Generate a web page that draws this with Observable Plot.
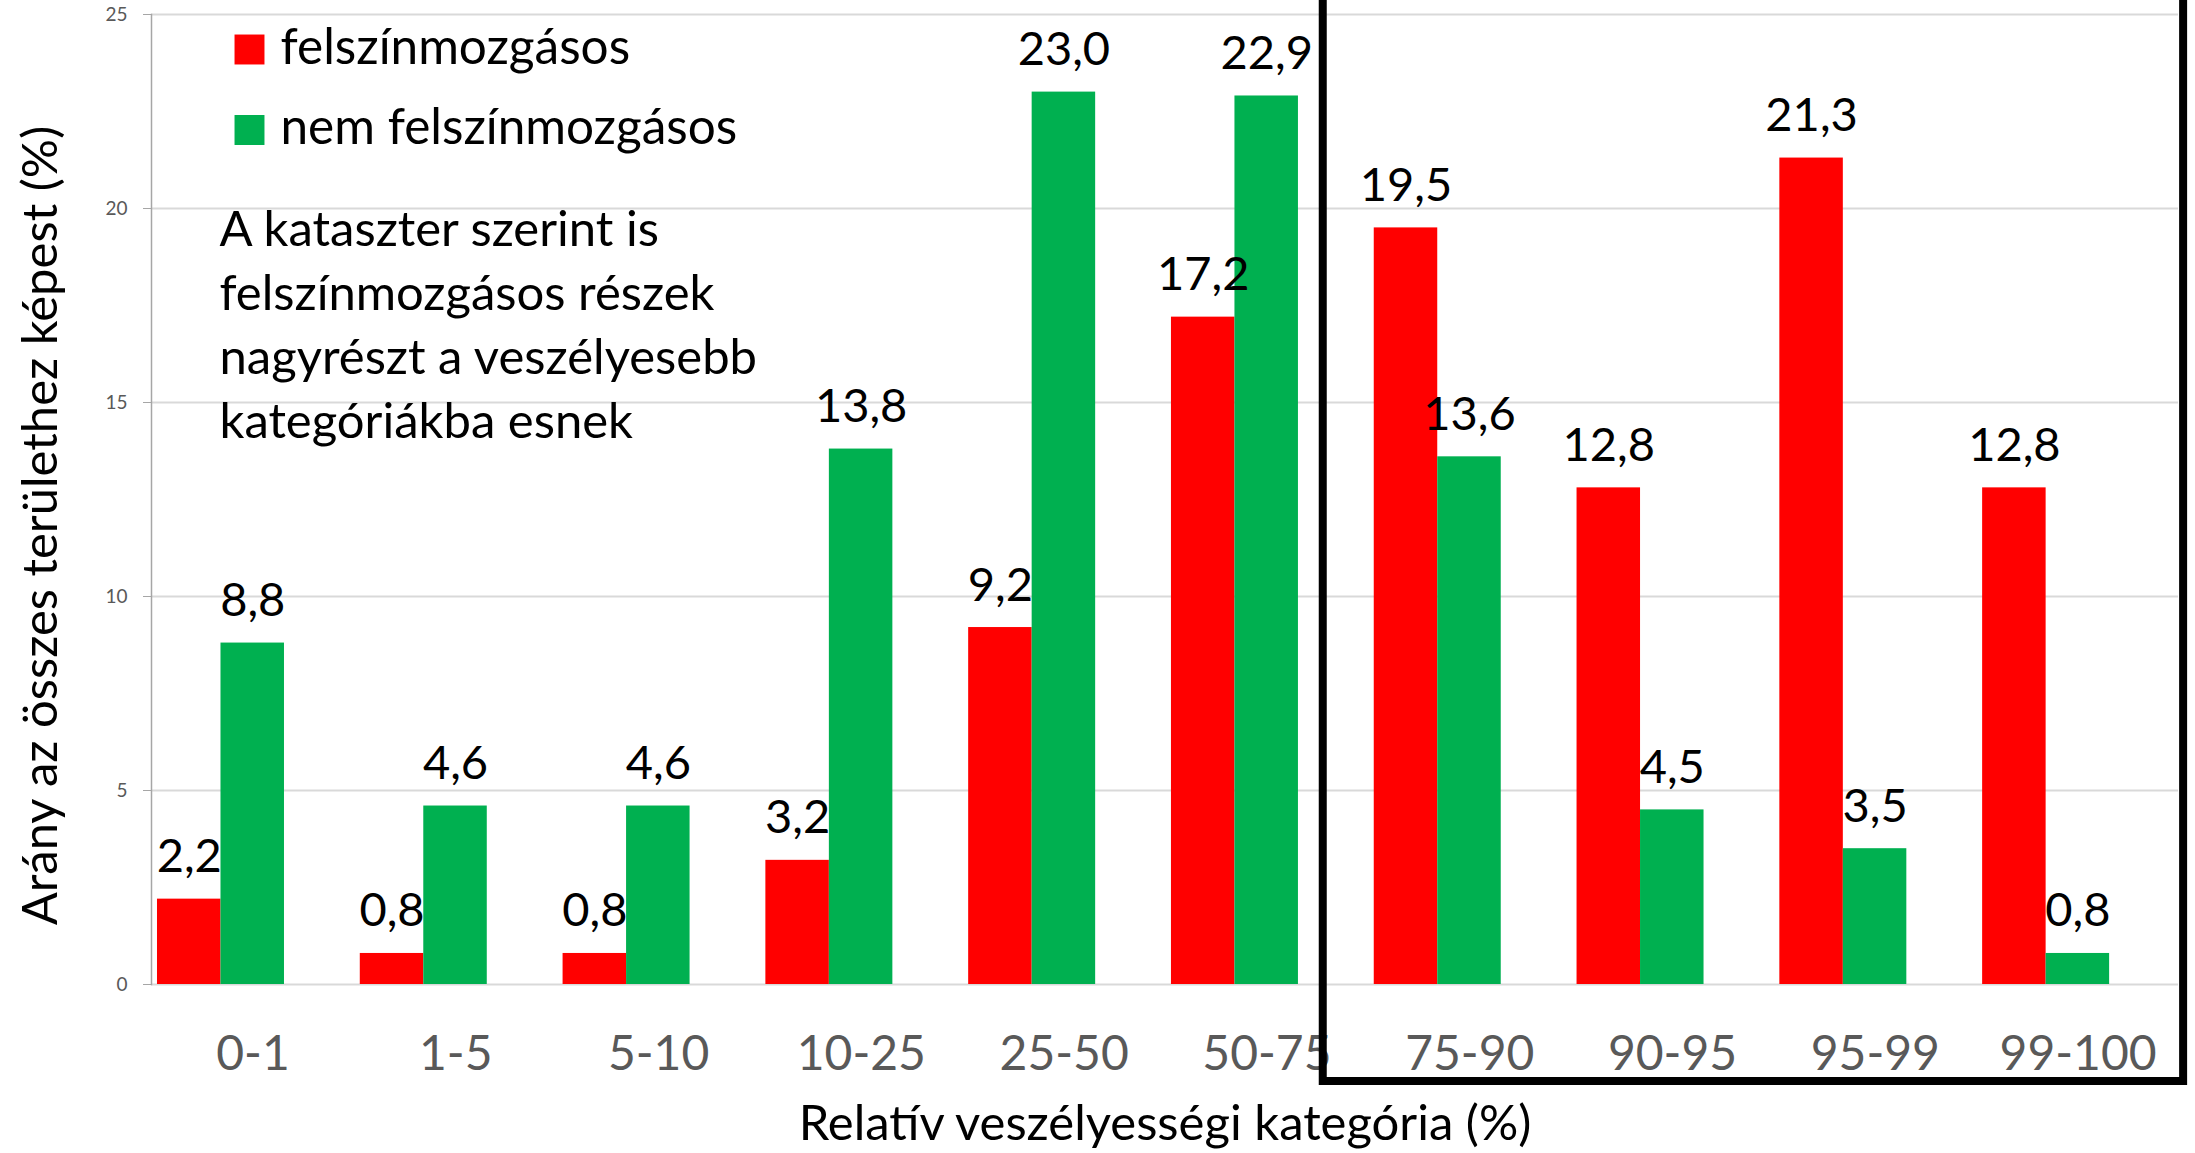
<!DOCTYPE html>
<html>
<head>
<meta charset="utf-8">
<script src="https://cdn.jsdelivr.net/npm/d3@7"></script>
<script src="https://cdn.jsdelivr.net/npm/@observablehq/plot@0.6"></script>
<style>
  html, body { margin: 0; padding: 0; background: #fff; }
  #chart svg { display: block; }
</style>
</head>
<body>
<div id="chart"></div>
<script>
const categories = ["0-1", "1-5", "5-10", "10-25", "25-50", "50-75", "75-90", "90-95", "95-99", "99-100"];
const felszin = [2.2, 0.8, 0.8, 3.2, 9.2, 17.2, 19.5, 12.8, 21.3, 12.8];
const nemFelszin = [8.8, 4.6, 4.6, 13.8, 23.0, 22.9, 13.6, 4.5, 3.5, 0.8];
const seriesNames = ["felszínmozgásos", "nem felszínmozgásos"];
const seriesColors = ["#FF0000", "#00B050"];
const yTicks = [0, 5, 10, 15, 20, 25];
const yLabel = "Arány az összes területhez képest (%)";
const xLabel = "Relatív veszélyességi kategória (%)";
const note = "A kataszter szerint is\nfelszínmozgásos részek\nnagyrészt a veszélyesebb\nkategóriákba esnek";

const W = 2195, H = 1153;
const mL = 151, mR = 17, mT = 14, mB = 169;
const xOpts = {paddingInner: 0.3738, paddingOuter: 0.1846, align: 0.08, round: false};
const xRange = [mL, W - mR];
const bw = d3.scaleBand().domain(categories).range(xRange)
  .paddingInner(xOpts.paddingInner).paddingOuter(xOpts.paddingOuter).align(xOpts.align).bandwidth();

const red = categories.map((c, i) => ({cat: c, value: felszin[i]}));
const green = categories.map((c, i) => ({cat: c, value: nemFelszin[i]}));
const fmt = v => v.toFixed(1).replace(".", ",");
const legend = seriesNames.map((s, i) => ({name: s, color: seriesColors[i], i}));

const chart = Plot.plot({
  width: W, height: H,
  marginLeft: mL, marginRight: mR, marginTop: mT, marginBottom: mB,
  style: {fontFamily: "Lato, sans-serif", background: "#fff"},
  x: {type: "band", domain: categories, range: xRange, ...xOpts},
  y: {domain: [0, 25]},
  marks: [
    Plot.gridY(yTicks, {stroke: "#d9d9d9", strokeOpacity: 1, strokeWidth: 2}),
    Plot.frame({anchor: "left", stroke: "#a6a6a6", strokeWidth: 1.5}),
    Plot.axisY({ticks: yTicks, tickSize: 8, tickPadding: 16, fontSize: 19, fill: "#595959", stroke: "#a6a6a6", label: null}),
    Plot.axisX({tickSize: 0, tickPadding: 51, fontSize: 48, fill: "#595959", dx: 32, label: null}),
    Plot.barY(red, {x: "cat", y: "value", fill: seriesColors[0], insetRight: bw / 2}),
    Plot.barY(green, {x: "cat", y: "value", fill: seriesColors[1], insetLeft: bw / 2}),
    Plot.text(red, {x: "cat", y: "value", text: d => fmt(d.value), dx: -bw / 4, dy: -27, lineAnchor: "bottom", fontSize: 47, fill: "#000"}),
    Plot.text(green, {x: "cat", y: "value", text: d => fmt(d.value), dx: bw / 4, dy: -27, lineAnchor: "bottom", fontSize: 47, fill: "#000"}),
    // legend
    Plot.dot(legend.slice(0, 1), {frameAnchor: "top-left", dx: 98, dy: 35, symbol: "square", r: 16.9, fill: "color", stroke: null}),
    Plot.dot(legend.slice(1, 2), {frameAnchor: "top-left", dx: 98, dy: 115.5, symbol: "square", r: 16.9, fill: "color", stroke: null}),
    Plot.text(legend.slice(0, 1), {frameAnchor: "top-left", dx: 129, dy: 34, text: "name", textAnchor: "start", lineAnchor: "middle", fontSize: 49.5, fill: "#000"}),
    Plot.text(legend.slice(1, 2), {frameAnchor: "top-left", dx: 129, dy: 114, text: "name", textAnchor: "start", lineAnchor: "middle", fontSize: 49.5, fill: "#000"}),
    // annotation
    Plot.text([note], {frameAnchor: "top-left", dx: 68, dy: 307, text: d => d, textAnchor: "start", lineAnchor: "middle", lineHeight: 64 / 49, fontSize: 49, fill: "#000"}),
    // axis titles
    Plot.text([yLabel], {frameAnchor: "left", dx: -110, dy: 26, text: d => d, rotate: -90, textAnchor: "middle", lineAnchor: "middle", fontSize: 49, fill: "#000"}),
    Plot.text([xLabel], {frameAnchor: "bottom", dy: 140, text: d => d, textAnchor: "middle", lineAnchor: "middle", fontSize: 49, fill: "#000"})
  ]
});
document.getElementById("chart").appendChild(chart);

// highlight box around the most hazardous categories
const xs = chart.scale("x"), ys = chart.scale("y");
const boxLeft = xs.apply("75-90") - 51;
const boxRight = xs.apply("99-100") + bw + 74;
const boxBottom = ys.apply(0) + 97;
d3.select(chart).append("rect")
  .attr("x", boxLeft).attr("y", -20)
  .attr("width", boxRight - boxLeft).attr("height", boxBottom + 20)
  .attr("fill", "none").attr("stroke", "#000").attr("stroke-width", 8);
</script>
</body>
</html>
